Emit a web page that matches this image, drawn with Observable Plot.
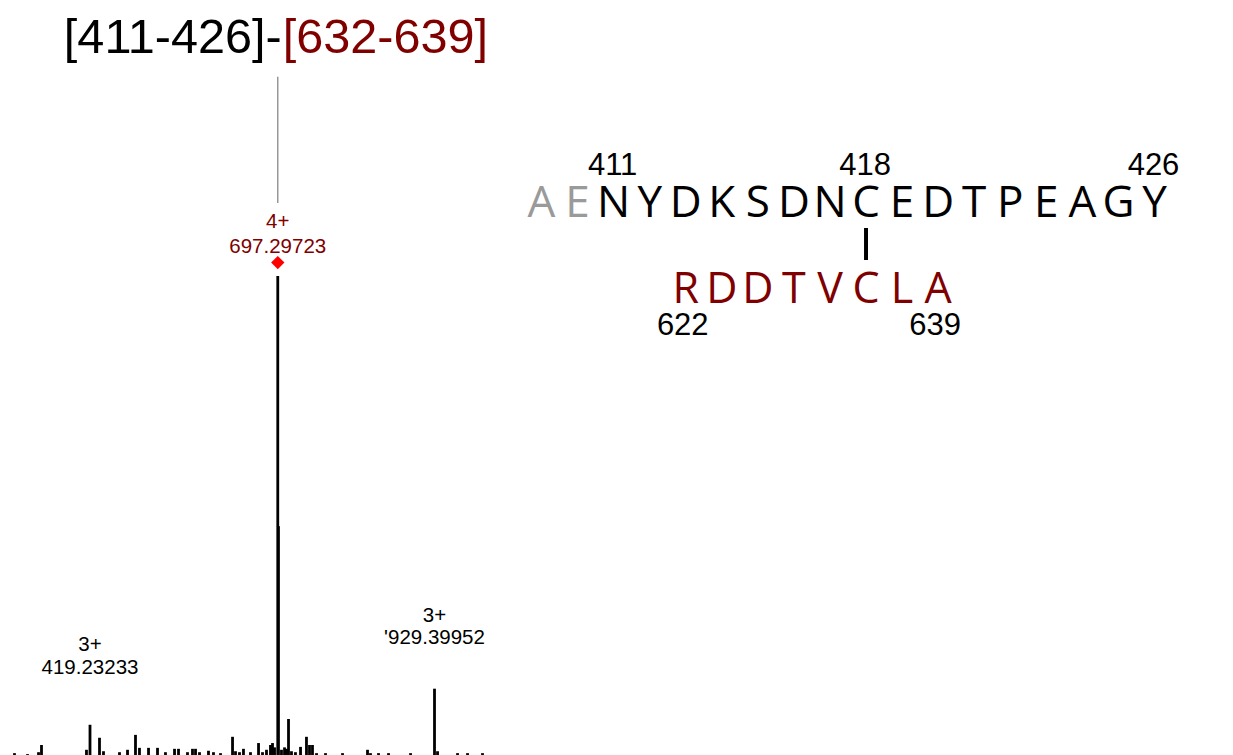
<!DOCTYPE html>
<html><head><meta charset="utf-8">
<script src="https://cdn.jsdelivr.net/npm/d3@7"></script>
<script src="https://cdn.jsdelivr.net/npm/@observablehq/plot@0.6"></script>
<style>
html,body{margin:0;padding:0;background:#fff;overflow:hidden}
#wrap{position:relative;width:1233px;height:755px;background:#fff}
#wrap svg{position:absolute;left:0;top:0}
</style></head><body><div id="wrap"></div>
<script>
// ---- spectrum (m/z, relative intensity) ----
const peakMz  = [307.4, 326.7, 343.0, 347.4, 414.0, 419.23, 433.3, 439.2, 462.9, 474.8, 486.6, 492.5, 505.9, 519.2, 531.0, 544.4, 550.3, 563.6, 571.0, 575.5, 581.4, 594.7, 602.1, 612.5, 630.3, 634.7, 640.6, 646.5, 656.9, 668.8, 674.7, 680.6, 686.5, 689.5, 692.5, 697.30, 698.30, 702.8, 707.3, 710.2, 713.2, 717.6, 723.5, 731.0, 739.8, 744.3, 748.7, 754.7, 768.0, 793.2, 830.2, 834.6, 846.5, 861.3, 893.9, 929.40, 933.9, 963.5, 978.3, 1000.5];
const peakInt = [0.8, 0.6, 1.0, 2.5, 1.5, 6.7, 4.0, 1.2, 1.0, 1.5, 4.6, 1.9, 1.9, 1.9, 1.0, 1.7, 1.7, 1.0, 1.7, 1.7, 1.0, 1.3, 1.0, 0.8, 4.2, 1.2, 1.0, 1.7, 1.0, 2.9, 1.0, 1.5, 2.5, 2.9, 2.0, 100, 48, 1.5, 2.0, 1.7, 7.9, 1.2, 1.0, 2.1, 4.2, 2.5, 2.5, 0.8, 0.8, 0.8, 1.5, 0.8, 0.8, 0.8, 0.8, 14.2, 1.2, 0.8, 0.8, 0.8];

// annotated peaks (label position in intensity units)
const labelMz    = [419.23, 929.40];
const labelText  = ["3+\n419.23233", "3+\n'929.39952"];
const labelY     = [17.3, 23.5];

// precursor
const precMz    = 697.30;
const precText  = "4+\n697.29723";
const precLabelY = 104.8;
const precMarkY  = 102.9;
const precLineY  = [115.2, 141.4];

// title
const titleLeft  = "[411-426]-";
const titleRight = "[632-639]";
const titleY     = 146.4;

// ---- sequence diagram ----
const topSeq   = ["A","E","N","Y","D","K","S","D","N","C","E","D","T","P","E","A","G","Y"];
const topStart = 409;
const topGrey  = 2;
const topNums  = [411, 418, 426];
const botSeq   = ["R","D","D","T","V","C","L","A"];
const botStart = 413;           // aligned under residue 413 of the top chain
const botNums  = ["622", "639"];
const botNumIdx = [0, 7];
const linkRes  = 418;

const darkRed = "#800000";
const sans = "Liberation Sans, Arial, Helvetica, sans-serif";
const seqFont = "Open Sans, Noto Sans, sans-serif";

const peaks = peakMz.map((m, i) => ({mz: m, intensity: peakInt[i]}));
const labels = labelMz.map((m, i) => ({mz: m, y: labelY[i], text: labelText[i]}));
const prec = [{mz: precMz, text: precText, ly: precLabelY, my: precMarkY, y1: precLineY[0], y2: precLineY[1]}];

const spectrum = Plot.plot({
  width: 1233, height: 755, margin: 0,
  style: {background: "transparent", fontFamily: sans},
  x: {domain: [419.23, 929.40], range: [89.5, 434], axis: null},
  y: {domain: [0, 100], range: [757, 276], axis: null},
  marks: [
    Plot.ruleX(peaks, {x: "mz", y1: 0, y2: "intensity", stroke: "black", strokeWidth: 2.8}),
    Plot.ruleX(prec, {x: "mz", y1: "y1", y2: "y2", stroke: "#888", strokeWidth: 1.3}),
    Plot.dot(prec, {x: "mz", y: "my", symbol: "diamond2", r: 6, fill: "red", stroke: "none"}),
    Plot.text(prec, {x: "mz", y: "ly", text: "text", lineAnchor: "bottom", lineHeight: 1.25, fontSize: 20.5, fill: darkRed, fontFamily: sans}),
    Plot.text(labels, {x: "mz", y: "y", text: "text", lineAnchor: "bottom", lineHeight: 1.12, fontSize: 20.5, fill: "black", fontFamily: sans}),
    Plot.text([titleLeft], {x: () => precMz, y: () => titleY, text: d => d, textAnchor: "end", lineAnchor: "bottom", dx: 4, fontSize: 48.6, fill: "black", fontFamily: sans}),
    Plot.text([titleRight], {x: () => precMz, y: () => titleY, text: d => d, textAnchor: "start", lineAnchor: "bottom", dx: 5, fontSize: 48.6, fill: darkRed, fontFamily: sans})
  ]
});

const topLetters = topSeq.map((l, i) => ({res: topStart + i, l, c: i < topGrey ? "#9a9a9a" : "black"}));
const botLetters = botSeq.map((l, i) => ({res: botStart + i, l}));
const topNumData = topNums.map(n => ({res: n, t: String(n)}));
const botNumData = botNums.map((t, i) => ({res: botStart + botNumIdx[i], t}));

const seq = Plot.plot({
  width: 1233, height: 755, margin: 0,
  style: {background: "transparent", fontFamily: sans},
  x: {domain: [topStart, topStart + topSeq.length - 1], range: [541, 1154], axis: null},
  y: {type: "point", padding: 0, domain: ["n1", "s1", "link", "s2", "n2"], range: [172, 335], axis: null},
  marks: [
    Plot.text(topNumData, {x: "res", y: () => "n1", text: "t", lineAnchor: "bottom", fontSize: 31, dx: -1, fill: "black", fontFamily: sans}),
    Plot.text(topLetters, {x: "res", y: () => "s1", text: "l", lineAnchor: "bottom", dy: 2, fontSize: 44, fill: "c", fontFamily: seqFont}),
    Plot.ruleX([linkRes], {x: d => d, y1: () => "s1", y2: () => "s2", insetTop: 14, insetBottom: 34, stroke: "black", strokeWidth: 4}),
    Plot.text(botLetters, {x: "res", y: () => "s2", text: "l", lineAnchor: "bottom", dy: 8, fontSize: 43, fill: darkRed, fontFamily: seqFont}),
    Plot.text(botNumData, {x: "res", y: () => "n2", text: "t", lineAnchor: "bottom", fontSize: 31, dx: -3, fill: "black", fontFamily: sans})
  ]
});

const wrap = document.getElementById("wrap");
wrap.appendChild(spectrum);
wrap.appendChild(seq);
</script></body></html>
